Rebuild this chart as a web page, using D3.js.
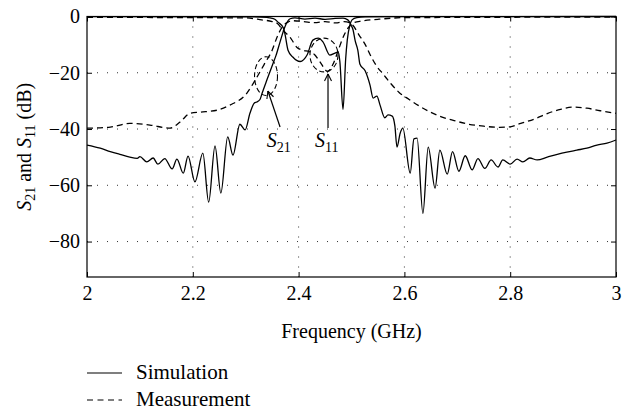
<!DOCTYPE html>
<html>
<head>
<meta charset="utf-8">
<script src="https://cdn.jsdelivr.net/npm/d3@7"></script>
<style>
  body { margin: 0; background: #fff; }
  text { font-family: "Liberation Serif", "DejaVu Serif", serif; fill: #000; }
</style>
</head>
<body>
<div id="chart"></div>
<script>
// values (GHz, dB)
var simS21Freq = [2.000, 2.025, 2.044, 2.062, 2.081, 2.095, 2.100, 2.113, 2.125, 2.134, 2.147, 2.161, 2.170, 2.182, 2.191,
  2.204, 2.219, 2.230, 2.242, 2.253, 2.266, 2.276, 2.289, 2.299, 2.308, 2.316, 2.321, 2.327, 2.331, 2.340, 2.352, 2.357,
  2.365, 2.374, 2.384, 2.393, 2.412, 2.431, 2.450, 2.469, 2.484, 2.493, 2.499, 2.503, 2.507, 2.512, 2.516, 2.526, 2.535,
  2.541, 2.548, 2.554, 2.563, 2.569, 2.577, 2.582, 2.586, 2.592, 2.597, 2.611, 2.618, 2.624, 2.635, 2.645, 2.658, 2.667,
  2.681, 2.691, 2.703, 2.715, 2.728, 2.739, 2.752, 2.764, 2.777, 2.786, 2.800, 2.813, 2.824, 2.837, 2.851, 2.870, 2.889,
  2.907, 2.926, 2.945, 2.964, 2.983, 3.000];
var simS21 = [-45.7, -46.8, -48.0, -49.0, -50.0, -50.4, -49.8, -51.7, -50.3, -52.5, -50.5, -54.2, -50.7, -55.7, -49.6,
  -58.8, -48.6, -66.0, -46.0, -62.8, -42.8, -49.3, -38.3, -40.3, -34.4, -30.8, -30.4, -29.5, -27.3, -22.6, -16.5, -14.0,
  -9.0, -3.7, -0.8, -0.5, -0.9, -0.6, -1.0, -0.7, -0.6, -1.2, -3.0, -4.8, -8.7, -12.0, -17.0, -19.4, -24.4,
  -29.0, -28.3, -31.5, -36.0, -35.0, -35.4, -38.9, -46.4, -41.5, -39.7, -55.7, -43.5, -43.2, -70.0, -46.4, -61.0, -47.5,
  -56.0, -48.0, -55.0, -49.5, -54.5, -50.5, -54.0, -51.0, -53.5, -51.0, -52.5, -50.7, -51.7, -50.3, -51.0, -50.0, -49.0,
  -48.2, -47.5, -46.8, -45.7, -45.0, -43.9];

var simS11Freq = [2.000, 2.300, 2.340, 2.346, 2.355, 2.361, 2.371, 2.374, 2.380, 2.389, 2.403, 2.416, 2.427, 2.437, 2.446,
  2.459, 2.469, 2.475, 2.478, 2.484, 2.489, 2.492, 2.497, 2.501, 2.510, 2.526, 2.600, 3.000];
var simS11 = [-0.05, -0.1, -0.3, -0.5, -1.0, -2.0, -4.0, -6.0, -12.0, -14.4, -16.0, -13.7, -8.4, -7.7, -9.0,
  -13.7, -13.0, -12.6, -16.0, -33.0, -15.0, -8.4, -3.0, -1.2, -0.4, -0.15, -0.05, 0.0];

var measS21Freq = [2.000, 2.044, 2.081, 2.119, 2.157, 2.176, 2.195, 2.214, 2.246, 2.270, 2.302, 2.318, 2.335, 2.350, 2.360,
  2.370, 2.380, 2.389, 2.410, 2.430, 2.450, 2.470, 2.486, 2.497, 2.503, 2.514, 2.526, 2.535, 2.547, 2.560, 2.575, 2.590,
  2.609, 2.628, 2.647, 2.666, 2.694, 2.722, 2.750, 2.780, 2.800, 2.820, 2.845, 2.870, 2.895, 2.920, 2.945, 2.970, 3.000];
var measS21 = [-39.7, -39.3, -38.0, -38.6, -39.7, -37.5, -34.4, -34.0, -33.3, -31.5, -27.3, -22.6, -17.0, -12.0, -7.0,
  -3.5, -2.0, -1.5, -1.8, -2.2, -1.8, -2.3, -1.8, -2.2, -3.2, -6.5, -10.0, -13.5, -17.5, -20.5, -24.0, -27.0,
  -29.5, -31.8, -33.8, -35.4, -37.0, -38.3, -39.0, -39.4, -39.2, -38.0, -36.5, -34.5, -33.0, -32.2, -32.6, -33.5, -34.4];

var measS11Freq = [2.000, 2.300, 2.330, 2.350, 2.360, 2.370, 2.385, 2.397, 2.408, 2.420, 2.430, 2.440, 2.455, 2.465, 2.475,
  2.485, 2.494, 2.503, 2.520, 2.550, 2.600, 3.000];
var measS11 = [-0.3, -0.5, -1.2, -1.8, -2.5, -4.8, -7.7, -11.0, -12.0, -12.5, -13.5, -16.0, -19.5, -17.0, -12.0,
  -7.0, -4.0, -2.3, -1.6, -1.0, -0.4, -0.2];

var xTicks = [2, 2.2, 2.4, 2.6, 2.8, 3];
var yTicks = [0, -20, -40, -60, -80];

var W = 629, H = 408;
var plotL = 87, plotR = 616, plotT = 16.5, plotB = 277;

var svg = d3.select('#chart').append('svg')
    .attr('width', W)
    .attr('height', H);

var x = d3.scaleLinear().domain([2, 3]).range([plotL, plotR]);
var y = d3.scaleLinear().domain([-92.6, 0]).range([plotB, plotT]);

// dotted grid
svg.append('g').selectAll('line').data(xTicks.slice(1, -1)).enter().append('line')
    .attr('x1', function(d) { return x(d); }).attr('x2', function(d) { return x(d); })
    .attr('y1', plotT).attr('y2', plotB)
    .attr('stroke', '#333').attr('stroke-width', 1).attr('stroke-dasharray', '1,9');
svg.append('g').selectAll('line').data(yTicks.slice(1)).enter().append('line')
    .attr('y1', function(d) { return y(d); }).attr('y2', function(d) { return y(d); })
    .attr('x1', plotL).attr('x2', plotR)
    .attr('stroke', '#333').attr('stroke-width', 1).attr('stroke-dasharray', '1,9');

function fmt(d) { return d < 0 ? '\u2212' + Math.abs(d) : String(d); }

svg.append('g').attr('transform', 'translate(0,' + plotB + ')')
    .call(d3.axisBottom(x).tickValues(xTicks).tickSize(-5).tickPadding(9).tickFormat(function(d) { return d; }));
svg.append('g').attr('transform', 'translate(' + plotL + ',0)')
    .call(d3.axisLeft(y).tickValues(yTicks).tickSize(-5).tickPadding(7).tickFormat(fmt));
svg.append('g').attr('transform', 'translate(0,' + plotT + ')')
    .call(d3.axisTop(x).tickValues(xTicks).tickSize(-5).tickFormat(''));
svg.append('g').attr('transform', 'translate(' + plotR + ',0)')
    .call(d3.axisRight(y).tickValues(yTicks).tickSize(-5).tickFormat(''));
svg.selectAll('.domain').remove();
svg.selectAll('.tick text').style('font-size', '20px').style('font-family', '"Liberation Serif", serif');
svg.selectAll('.tick line').attr('stroke', '#000');

svg.append('rect')
    .attr('x', plotL).attr('y', plotT)
    .attr('width', plotR - plotL).attr('height', plotB - plotT)
    .attr('fill', 'none').attr('stroke', '#000').attr('stroke-width', 1.2);

var line = d3.line()
    .curve(d3.curveMonotoneX)
    .x(function(d) { return x(d[0]); })
    .y(function(d) { return y(d[1]); });

function draw(fs, vs, dashed) {
    svg.append('path')
        .datum(d3.zip(fs, vs))
        .attr('d', line)
        .attr('fill', 'none')
        .attr('stroke', '#000')
        .attr('stroke-width', 1.3)
        .attr('stroke-dasharray', dashed ? '6,4' : null);
}
draw(simS21Freq, simS21, false);
draw(simS11Freq, simS11, false);
draw(measS21Freq, measS21, true);
draw(measS11Freq, measS11, true);

// annotations: dashed ellipses, arrows, labels (in data units)
var ellipses = [
    { f: 2.3384, db: -21.2, rf: 0.0217, rdb: 6.9 },
    { f: 2.448, db: -13.7, rf: 0.0265, rdb: 6.0 }
];
svg.selectAll('ellipse').data(ellipses).enter().append('ellipse')
    .attr('cx', function(d) { return x(d.f); })
    .attr('cy', function(d) { return y(d.db); })
    .attr('rx', function(d) { return x(d.f + d.rf) - x(d.f); })
    .attr('ry', function(d) { return y(d.db - d.rdb) - y(d.db); })
    .attr('fill', 'none').attr('stroke', '#000').attr('stroke-width', 1.1)
    .attr('stroke-dasharray', '5,3');

var arrows = [
    { f0: 2.365, d0: -39.3, f1: 2.342, d1: -26.5 },
    { f0: 2.4556, d0: -39.6, f1: 2.4556, d1: -20.4 }
];
arrows.forEach(function(a) {
    var x0 = x(a.f0), y0 = y(a.d0), x1 = x(a.f1), y1 = y(a.d1);
    var ang = Math.atan2(y1 - y0, x1 - x0);
    svg.append('line').attr('x1', x0).attr('y1', y0).attr('x2', x1).attr('y2', y1)
        .attr('stroke', '#000').attr('stroke-width', 1.2);
    [-0.45, 0.45].forEach(function(o) {
        svg.append('line').attr('x1', x1).attr('y1', y1)
            .attr('x2', x1 - 8 * Math.cos(ang + o)).attr('y2', y1 - 8 * Math.sin(ang + o))
            .attr('stroke', '#000').attr('stroke-width', 1.1);
    });
});

var labels = [
    { f: 2.340, db: -46.4, sub: '21' },
    { f: 2.431, db: -46.4, sub: '11' }
];
labels.forEach(function(l) {
    var t = svg.append('text').attr('x', x(l.f)).attr('y', y(l.db)).style('font-size', '20px');
    t.append('tspan').style('font-style', 'italic').text('S');
    t.append('tspan').attr('dy', 5).style('font-size', '14px').text(l.sub);
});

// axis titles
svg.append('text')
    .attr('x', (plotL + plotR) / 2).attr('y', 338)
    .attr('text-anchor', 'middle').style('font-size', '20px')
    .text('Frequency (GHz)');

var yl = svg.append('text')
    .attr('transform', 'translate(31,' + ((plotT + plotB) / 2) + ') rotate(-90)')
    .attr('text-anchor', 'middle').style('font-size', '20px');
yl.append('tspan').style('font-style', 'italic').text('S');
yl.append('tspan').attr('dy', 4).style('font-size', '14px').text('21');
yl.append('tspan').attr('dy', -4).text(' and ');
yl.append('tspan').style('font-style', 'italic').text('S');
yl.append('tspan').attr('dy', 4).style('font-size', '14px').text('11');
yl.append('tspan').attr('dy', -4).text(' (dB)');

// legend
var legend = [
    { name: 'Simulation', dashed: false },
    { name: 'Measurement', dashed: true }
];
var lg = svg.append('g').selectAll('g').data(legend).enter().append('g')
    .attr('transform', function(d, i) { return 'translate(87,' + (373 + i * 27) + ')'; });
lg.append('line').attr('x1', 0).attr('x2', 35).attr('y1', 0).attr('y2', 0)
    .attr('stroke', '#000').attr('stroke-width', 1.2)
    .attr('stroke-dasharray', function(d) { return d.dashed ? '6,4.5' : null; });
lg.append('text').attr('x', 49).attr('y', 5.5).style('font-size', '21px')
    .text(function(d) { return d.name; });
</script>
</body>
</html>
